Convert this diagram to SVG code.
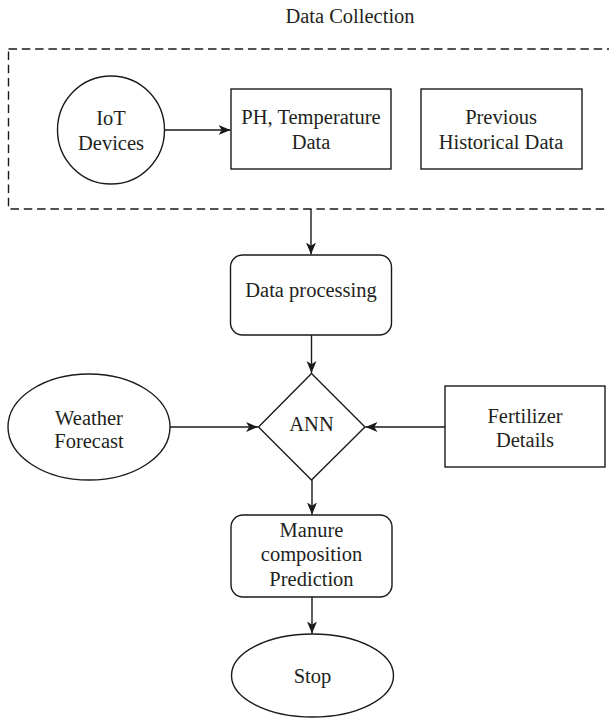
<svg xmlns="http://www.w3.org/2000/svg" width="609" height="718" viewBox="0 0 609 718">
  <style>
    .shape { fill: #ffffff; stroke: #1a1a1a; stroke-width: 1.4; }
    .group { fill: none; stroke: #1a1a1a; stroke-width: 1.4; stroke-dasharray: 8.5 4.8; }
    .edge { fill: none; stroke: #1a1a1a; stroke-width: 1.4; marker-end: url(#arrow); }
    text { font-family: "Liberation Serif", "DejaVu Serif", serif; font-size: 20.5px; fill: #231f20; text-anchor: middle; }
  </style>
  <defs>
    <marker id="arrow" markerUnits="userSpaceOnUse" markerWidth="13" markerHeight="11" refX="12" refY="5.5" orient="auto">
      <path d="M0,0.5 L12,5.5 L0,10.5 L3.2,5.5 Z" fill="#1a1a1a"/>
    </marker>
  </defs>

  <rect width="609" height="718" fill="#ffffff"/>

  <!-- Data collection container -->
  <g id="data-collection">
    <rect class="group" x="8.5" y="49" width="690" height="160"/>
    <text x="350" y="23">Data Collection</text>
  </g>

  <g id="iot-devices">
    <ellipse class="shape" cx="111" cy="130" rx="53.5" ry="54"/>
    <text x="111" y="125">IoT</text>
    <text x="111" y="150">Devices</text>
  </g>

  <g id="ph-temperature">
    <rect class="shape" x="231" y="89" width="160" height="80"/>
    <text x="311" y="123.5">PH, Temperature</text>
    <text x="311" y="149">Data</text>
  </g>

  <g id="historical-data">
    <rect class="shape" x="421" y="89" width="161" height="80"/>
    <text x="501" y="123.5">Previous</text>
    <text x="501" y="149">Historical Data</text>
  </g>

  <g id="data-processing">
    <rect class="shape" x="230.5" y="255" width="161" height="80" rx="12" ry="12"/>
    <text x="311" y="297">Data processing</text>
  </g>

  <g id="weather-forecast">
    <ellipse class="shape" cx="89" cy="427" rx="81" ry="53"/>
    <text x="89" y="424.5">Weather</text>
    <text x="89" y="448">Forecast</text>
  </g>

  <g id="ann">
    <polygon class="shape" points="311.5,373.5 365,427 311.5,480 258.5,427"/>
    <text x="311.5" y="431">ANN</text>
  </g>

  <g id="fertilizer-details">
    <rect class="shape" x="445" y="386" width="160" height="81"/>
    <text x="525" y="422.5">Fertilizer</text>
    <text x="525" y="447">Details</text>
  </g>

  <g id="manure-prediction">
    <rect class="shape" x="231" y="515" width="161" height="82" rx="12" ry="12"/>
    <text x="311.5" y="536.5">Manure</text>
    <text x="311.5" y="561">composition</text>
    <text x="311.5" y="585.5">Prediction</text>
  </g>

  <g id="stop">
    <ellipse class="shape" cx="312.5" cy="675.5" rx="81" ry="41.5"/>
    <text x="312.5" y="683">Stop</text>
  </g>

  <!-- Connectors -->
  <g id="connectors">
    <line class="edge" x1="164.5" y1="130" x2="230.5" y2="130"/>
    <line class="edge" x1="311" y1="209" x2="311" y2="254.5"/>
    <line class="edge" x1="311.5" y1="335" x2="311.5" y2="373"/>
    <line class="edge" x1="170" y1="427" x2="258" y2="427"/>
    <line class="edge" x1="445" y1="427" x2="365.5" y2="427"/>
    <line class="edge" x1="312" y1="480" x2="312" y2="514.5"/>
    <line class="edge" x1="312" y1="597" x2="312" y2="633.5"/>
  </g>
</svg>
